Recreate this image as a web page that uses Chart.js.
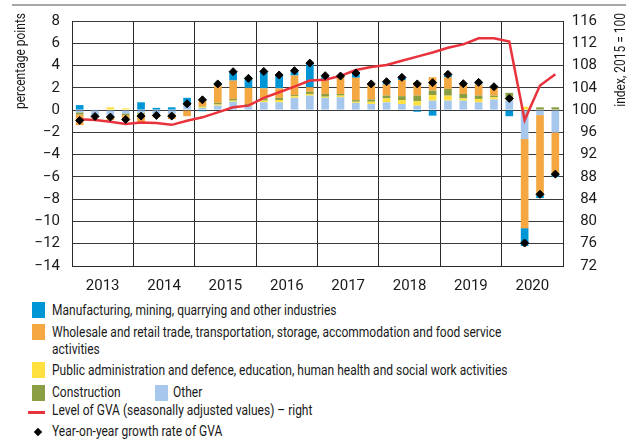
<!DOCTYPE html>
<html>
<head>
<meta charset="utf-8">
<script src="https://cdn.jsdelivr.net/npm/chart.js@4.4.1/dist/chart.umd.min.js"></script>
<style>
  body { margin: 0; background: #fff; }
  #wrap { position: relative; width: 634px; height: 441px; font-family: Roboto, "Liberation Sans", sans-serif; font-size: 15px; color: #1a1a1a; }
  #myChart { position: absolute; left: 0; top: 0; }
  .row { position: absolute; left: 52px; line-height: 17px; white-space: nowrap; transform: scaleX(0.8); transform-origin: 0 0; }
  .sw { position: absolute; width: 13px; height: 16px; }
</style>
</head>
<body>
<div id="wrap">
  <canvas id="myChart" width="634" height="300"></canvas>

  <div class="sw" style="left:32px;top:302px;background:#0096d6"></div>
  <div class="row" style="top:302px">Manufacturing, mining, quarrying and other industries</div>

  <div class="sw" style="left:32px;top:324px;background:#f5a841"></div>
  <div class="row" style="top:324px">Wholesale and retail trade, transportation, storage, accommodation and food service<br>activities</div>

  <div class="sw" style="left:32px;top:362px;background:#ffe03e"></div>
  <div class="row" style="top:362px">Public administration and defence, education, human health and social work activities</div>

  <div class="sw" style="left:32px;top:385px;background:#8a9f43"></div>
  <div class="row" style="top:384px">Construction</div>
  <div class="sw" style="left:155px;top:385px;background:#a7c8ec"></div>
  <div class="row" style="left:173px;top:384px">Other</div>

  <div style="position:absolute;left:28px;top:411px;width:17px;height:3px;background:#e8323c"></div>
  <div class="row" style="top:402px">Level of GVA (seasonally adjusted values) – right</div>

  <div style="position:absolute;left:35px;top:429px;width:6px;height:6px;background:#000;transform:rotate(45deg)"></div>
  <div class="row" style="top:423px">Year-on-year growth rate of GVA</div>
</div>

<script>
// setup
const years = ['2013', '2014', '2015', '2016', '2017', '2018', '2019', '2020'];
const quarters = [];
years.forEach(y => { for (let q = 1; q <= 4; q++) quarters.push(y + ' Q' + q); });

// contributions, percentage points
const other = [-0.2, -0.55, -0.55, -0.3, -0.25, -0.4, -0.35, 0.5, 0.2, 0.4, 0.75, 0.35, 0.7, 0.7, 1.1, 1.3,
  1.1, 1.15, 0.65, 0.55, 0.7, 0.55, 0.4, 0.85, 0.85, 0.85, 0.7, 0.95, 0.87, -2.6, -0.45, -2.0];
const publicAdm = [0, 0, 0.25, 0.15, 0, 0, 0, 0, 0.1, 0.1, 0.1, 0.1, 0.15, 0.2, 0.15, 0.15,
  0.1, 0.15, 0.1, 0.2, 0.35, 0.35, 0.4, 0.5, 0.45, 0.2, 0.3, 0.2, 0.3, 0.3, 0, 0];
const construction = [-0.2, 0, 0, -0.15, -0.1, 0, 0, -0.05, 0.05, 0.15, 0.15, 0.1, 0.2, 0.2, 0.1, 0.2,
  0.25, 0.15, 0.15, 0.2, 0.25, 0.35, 0.5, 0.4, 0.6, 0.4, 0.3, 0.15, 0.38, 0, 0.25, 0.25];
const wholesale = [-0.95, -0.1, -0.35, -0.55, -0.85, -0.25, -0.45, -0.5, 0.65, 1.55, 1.65, 1.45, 0.9, 0.85, 1.75, 0.4,
  1.2, 1.6, 2.0, 1.3, 1.0, 1.45, 1.2, 1.2, 1.05, 0.95, 1.0, 0.85, 0, -8.0, -7.2, -3.8];
const manufacturing = [0.45, 0.05, 0, 0, 0.7, 0.2, 0.25, 0.6, -0.1, 0.15, 0.8, 0.85, 1.5, 1.2, 0.45, 2.2,
  0.4, 0, 0.4, 0.1, 0.25, 0.25, -0.15, -0.5, 0.25, -0.05, 0.2, -0.05, -0.55, -1.6, -0.25, -0.2];
const growth = [-0.93, -0.57, -0.63, -0.84, -0.54, -0.48, -0.54, 0.56, 0.92, 2.35, 3.45, 2.85, 3.47, 3.15, 3.54, 4.22,
  3.09, 3.06, 3.33, 2.35, 2.55, 2.94, 2.35, 2.46, 3.21, 2.37, 2.49, 2.1, 1.04, -11.94, -7.56, -5.75];
// index, 2015 = 100
const level = [98.35, 98.2, 97.9, 97.5, 97.75, 97.7, 97.35, 98.1, 98.7, 99.6, 100.5, 100.8, 102.2, 103.2, 104.2, 105.3,
  105.45, 106.15, 107.2, 107.75, 108.1, 108.85, 109.6, 110.35, 111.2, 111.8, 112.9, 112.9, 112.3, 98.2, 104.4, 106.45];

const FONT = 'Roboto, "Liberation Sans", sans-serif';
Chart.defaults.font.family = FONT;
Chart.defaults.font.size = 15;
Chart.defaults.color = '#1a1a1a';

const bar = (label, values, color) => ({
  type: 'bar', label, data: values, backgroundColor: color, borderWidth: 0,
  stack: 'gva', order: 2, categoryPercentage: 1, barPercentage: 0.5
});

const data = {
  labels: quarters,
  datasets: [
    { type: 'line', label: 'Year-on-year growth rate of GVA', data: growth, yAxisID: 'y', stack: 'growth',
      showLine: false, pointStyle: 'rectRot', pointRadius: 4, backgroundColor: '#000', borderColor: '#000', order: 0 },
    { type: 'line', label: 'Level of GVA', data: level, yAxisID: 'y2',
      borderColor: '#e8323c', borderWidth: 2.5, pointRadius: 0, tension: 0, order: 1 },
    bar('Other', other, '#a7c8ec'),
    bar('Public administration', publicAdm, '#ffe03e'),
    bar('Construction', construction, '#8a9f43'),
    bar('Wholesale and retail trade', wholesale, '#f5a841'),
    bar('Manufacturing', manufacturing, '#0096d6')
  ]
};

const minus = v => v < 0 ? '\u2212' + Math.abs(v) : String(v);

// axis titles (read upwards, top aligned) and the rule above the chart
const vTitle = (ctx, text, x) => {
  ctx.save();
  ctx.fillStyle = '#1a1a1a';
  ctx.font = '15px ' + FONT;
  ctx.textAlign = 'right';
  ctx.textBaseline = 'middle';
  ctx.translate(x, 13);
  ctx.rotate(-Math.PI / 2);
  ctx.scale(0.8, 1);
  ctx.fillText(text, 0, 0);
  ctx.restore();
};

const extras = {
  id: 'extras',
  afterDraw(chart) {
    const { ctx } = chart;
    ctx.save();
    ctx.strokeStyle = '#8a8a8a';
    ctx.lineWidth = 1.5;
    ctx.beginPath();
    ctx.moveTo(12, 5);
    ctx.lineTo(626, 5);
    ctx.stroke();
    ctx.restore();
    vTitle(ctx, 'percentage points', 21);
    vTitle(ctx, 'index, 2015 = 100', 621);
  }
};

const config = {
  data,
  options: {
    responsive: false,
    animation: false,
    layout: { padding: { top: 20, left: 0, right: 37, bottom: 0 } },
    plugins: { legend: { display: false }, tooltip: { enabled: false } },
    scales: {
      x: { type: 'category', display: false, offset: true, stacked: true },
      year: {
        type: 'category', labels: years, position: 'bottom', offset: true,
        grid: { offset: true, color: '#2a2a2a', lineWidth: 1, drawTicks: false },
        border: { color: '#2a2a2a' },
        ticks: { padding: 11 },
        afterFit(s) { s.height = 34; }
      },
      y: {
        position: 'left', min: -14, max: 8, stacked: true,
        ticks: { stepSize: 2, padding: 12, callback: minus },
        grid: { color: '#3a3a3a', lineWidth: 1, drawTicks: false },
        border: { color: '#2a2a2a' },
        afterFit(s) { s.width = 72; }
      },
      y2: {
        position: 'right', min: 72, max: 116,
        ticks: { stepSize: 4, padding: 12, crossAlign: 'far' },
        grid: { display: false, drawTicks: false },
        border: { color: '#2a2a2a' },
        afterFit(s) { s.width = 34; }
      }
    }
  },
  plugins: [extras]
};

const myChart = new Chart(document.getElementById('myChart'), config);
</script>
</body>
</html>
